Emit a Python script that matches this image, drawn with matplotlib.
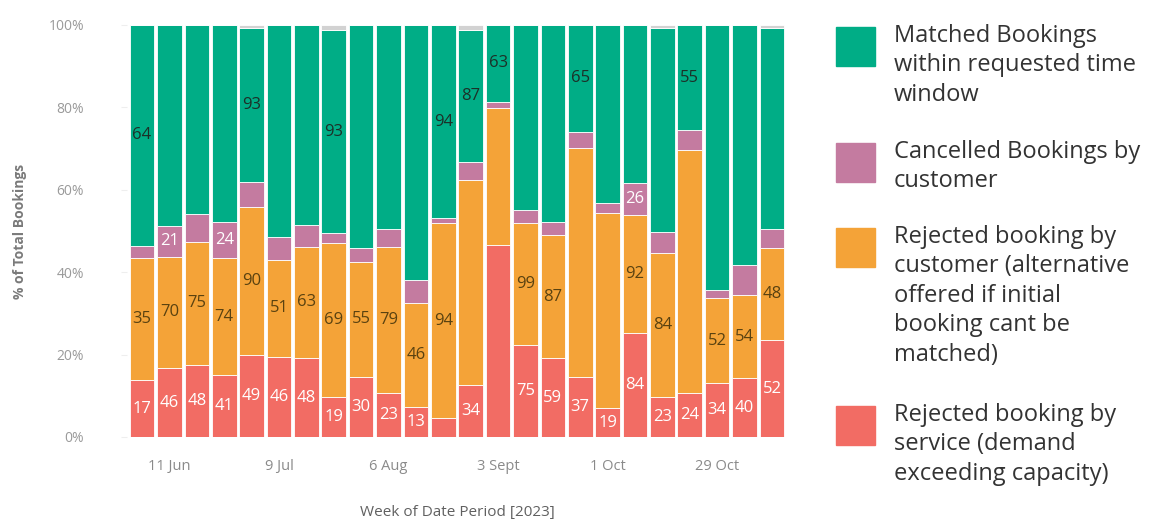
import matplotlib
matplotlib.use("Agg")
import matplotlib.pyplot as plt
from matplotlib.patches import Rectangle
import numpy as np

plt.rcParams['font.family'] = ['Open Sans', 'DejaVu Sans']

weeks = ["4 Jun", "11 Jun", "18 Jun", "25 Jun", "2 Jul", "9 Jul", "16 Jul", "23 Jul",
         "30 Jul", "6 Aug", "13 Aug", "20 Aug", "27 Aug", "3 Sept", "10 Sept", "17 Sept",
         "24 Sept", "1 Oct", "8 Oct", "15 Oct", "22 Oct", "29 Oct", "5 Nov", "12 Nov"]
tick_weeks = ["11 Jun", "9 Jul", "6 Aug", "3 Sept", "1 Oct", "29 Oct"]

# percent of total bookings per week (stack order bottom -> top)
rejected_service_pct = [13.8, 16.7, 17.5, 15.0, 19.9, 19.5, 19.1, 9.8, 14.6, 10.6, 7.4, 4.5,
                        12.6, 46.6, 22.3, 19.1, 14.6, 7.0, 25.2, 9.8, 10.6, 13.0, 14.2, 23.5]
rejected_customer_pct = [29.6, 27.1, 29.9, 28.4, 36.0, 23.5, 27.1, 37.2, 27.9, 35.6, 25.1, 47.4,
                         49.8, 33.2, 29.6, 29.9, 55.5, 47.3, 28.7, 34.8, 59.1, 20.7, 20.3, 22.3]
cancelled_pct = [3.0, 7.4, 6.7, 8.9, 6.1, 5.6, 5.3, 2.4, 3.3, 4.4, 5.6, 1.2,
                 4.4, 1.6, 3.2, 3.3, 4.0, 2.4, 7.7, 5.2, 4.8, 2.0, 7.2, 4.8]
matched_pct = [53.6, 48.8, 45.9, 47.7, 37.2, 51.4, 48.5, 49.4, 54.2, 49.4, 61.9, 46.9,
               32.0, 18.6, 44.9, 47.7, 25.9, 43.3, 38.4, 49.4, 25.5, 64.3, 58.3, 48.6]
other_pct = [0, 0, 0, 0, 0.8, 0, 0, 1.2, 0, 0, 0, 0,
             1.2, 0, 0, 0, 0, 0, 0, 0.8, 0, 0, 0, 0.8]

# count labels shown on the segments (None = not shown)
rejected_service_lbl = [17, 46, 48, 41, 49, 46, 48, 19, 30, 23, 13, None,
                        34, None, 75, 59, 37, 19, 84, 23, 24, 34, 40, 52]
rejected_customer_lbl = [35, 70, 75, 74, 90, 51, 63, 69, 55, 79, 46, 94,
                         None, None, 99, 87, None, None, 92, 84, None, 52, 54, 48]
cancelled_lbl = [None, 21, None, 24, None, None, None, None, None, None, None, None,
                 None, None, None, None, None, None, 26, None, None, None, None, None]
matched_lbl = [64, None, None, None, 93, None, None, 93, None, None, None, 94,
               87, 63, None, None, 65, None, None, None, 55, None, None, None]

legend_labels = [
    "Matched Bookings\nwithin requested time\nwindow",
    "Cancelled Bookings by\ncustomer",
    "Rejected booking by\ncustomer (alternative\noffered if initial\nbooking cant be\nmatched)",
    "Rejected booking by\nservice (demand\nexceeding capacity)",
]

C_GREEN = "#00ad86"
C_PURPLE = "#c47ba0"
C_ORANGE = "#f4a338"
C_RED = "#f26c64"
C_GRAY = "#d2d2d2"

fig = plt.figure(figsize=(11.51, 5.23), dpi=100)
ax = fig.add_axes([127 / 1151, 86 / 523, 660 / 1151, 412 / 523])

x = np.arange(len(weeks))
w = 0.9
series = [
    (rejected_service_pct, C_RED, rejected_service_lbl, "#ffffff"),
    (rejected_customer_pct, C_ORANGE, rejected_customer_lbl, "#5a4210"),
    (cancelled_pct, C_PURPLE, cancelled_lbl, "#ffffff"),
    (matched_pct, C_GREEN, matched_lbl, "#1c3028"),
    (other_pct, C_GRAY, [None] * len(weeks), "#000000"),
]
bottom = np.zeros(len(weeks))
for vals, col, lbls, tcol in series:
    vals = np.array(vals, dtype=float)
    ax.bar(x, vals, width=w, bottom=bottom, color=col, edgecolor="white",
           linewidth=0.6)
    for i, lb in enumerate(lbls):
        if lb is not None:
            ax.text(x[i], bottom[i] + vals[i] / 2, str(lb), ha="center", va="center",
                    fontsize=12, color=tcol)
    bottom += vals

ax.set_xlim(-0.55, len(weeks) - 0.45)
ax.set_ylim(0, 100)
ax.set_yticks([0, 20, 40, 60, 80, 100])
ax.set_yticklabels(["0%", "20%", "40%", "60%", "80%", "100%"], fontsize=10, color="#9a9a9a")
ax.set_xticks([weeks.index(t) for t in tick_weeks])
ax.set_xticklabels(tick_weeks, fontsize=10.5, color="#8a8a8a")
ax.tick_params(axis="y", length=4, color="#eeeeee", pad=27)
ax.tick_params(axis="x", length=0, pad=16)
for s in ax.spines.values():
    s.set_visible(False)
ax.set_ylabel("% of Total Bookings", fontsize=10, fontweight="bold", color="#7a7a7a",
              labelpad=15)
ax.set_xlabel("Week of Date Period [2023]", fontsize=11, color="#606060", labelpad=22)

# legend
leg_colors = [C_GREEN, C_PURPLE, C_ORANGE, C_RED]
sq_tops = [27, 143, 228, 406]
for col, top, lab in zip(leg_colors, sq_tops, legend_labels):
    fig.patches.append(Rectangle((836 / 1151, 1 - (top + 39) / 523), 39 / 1151, 39 / 523,
                                 transform=fig.transFigure, color=col))
    fig.text(894 / 1151, 1 - (top - 3) / 523, lab, ha="left", va="top", fontsize=17,
             color="#333333", linespacing=1.3)

fig.savefig("out.png", dpi=100)
